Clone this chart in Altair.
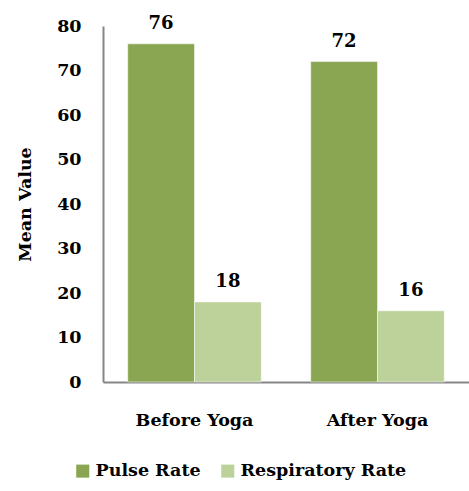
import altair as alt
import pandas as pd

groups = ["Before Yoga", "After Yoga"]
series = ["Pulse Rate", "Respiratory Rate"]
pulse = [76, 72]
resp = [18, 16]
colors = ["#8AA652", "#BDD29A"]

rows = []
for g, p, r in zip(groups, pulse, resp):
    rows.append({"group": g, "series": series[0], "value": p})
    rows.append({"group": g, "series": series[1], "value": r})
df = pd.DataFrame(rows)

FONT = "DejaVu Serif"

x = alt.X("group:N", sort=groups, title=None,
          scale=alt.Scale(paddingInner=0.27, paddingOuter=0.135),
          axis=alt.Axis(labelAngle=0, labelFont=FONT, labelFontSize=17.5, labelFontWeight="bold",
                        labelColor="black", labelPadding=29, ticks=False,
                        domainColor="#868686", domainWidth=2))
y = alt.Y("value:Q", title="Mean Value",
          scale=alt.Scale(domain=[0, 80]),
          axis=alt.Axis(values=list(range(0, 81, 10)), grid=False, ticks=False,
                        labelFont=FONT, labelFontSize=17.5, labelFontWeight="bold",
                        labelColor="black", labelPadding=22,
                        titleFont=FONT, titleFontSize=17.5, titleFontWeight="bold",
                        titleColor="black", titlePadding=22,
                        domainColor="#868686", domainWidth=2))

base = alt.Chart(df).encode(
    x=x,
    xOffset=alt.XOffset("series:N", sort=series),
)

bars = base.mark_bar(stroke="white", strokeWidth=0.5).encode(
    y=y,
    color=alt.Color("series:N", sort=series,
                    scale=alt.Scale(domain=series, range=colors),
                    legend=alt.Legend(title=None, orient="none", direction="horizontal",
                                      legendX=-29, legendY=436,
                                      symbolType="square", symbolSize=170,
                                      symbolStrokeWidth=0,
                                      labelFont=FONT, labelFontSize=17.5, labelFontWeight="bold",
                                      labelColor="black", labelOffset=4, labelLimit=400,
                                      columnPadding=18)),
)

labels = base.mark_text(font=FONT, fontSize=18, fontWeight="bold", color="black",
                        baseline="alphabetic", dy=-15).encode(
    y=alt.Y("value:Q"),
    text=alt.Text("value:Q"),
)

chart = (bars + labels).properties(
    width=366, height=356,
    autosize=alt.AutoSizeParams(type="none"),
    padding={"left": 103, "top": 26, "right": 0, "bottom": 109},
    background="white",
).configure_view(stroke=None)

chart.save("out.html", embed_options={"renderer": "svg", "actions": False})
